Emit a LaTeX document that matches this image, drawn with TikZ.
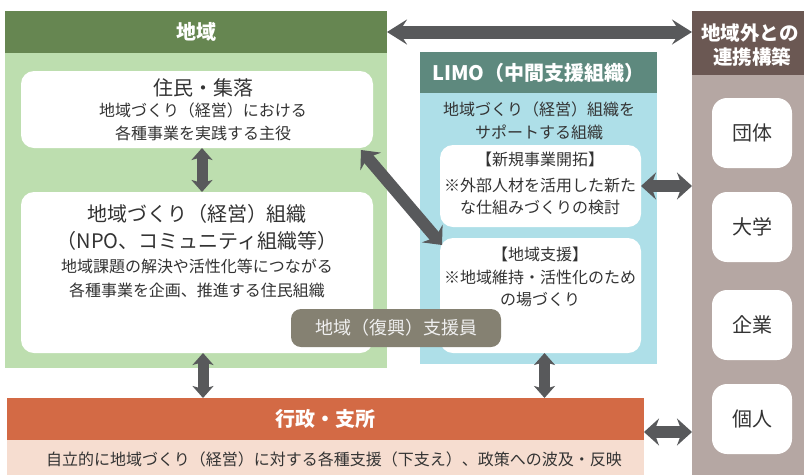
\documentclass[tikz,border=0pt]{standalone}
\usepackage{fontspec}
\setmainfont{Noto Sans CJK JP}
\usetikzlibrary{arrows.meta}
\definecolor{hdrgreen}{HTML}{668651}
\definecolor{ltgreen}{HTML}{BDDEAF}
\definecolor{hdrlimo}{HTML}{5E897E}
\definecolor{ltblue}{HTML}{AEDFE8}
\definecolor{hdrbrown}{HTML}{6B5853}
\definecolor{ltbrown}{HTML}{B5A7A3}
\definecolor{hdrorange}{HTML}{D36A45}
\definecolor{ltorange}{HTML}{F6DDD0}
\definecolor{pillgray}{HTML}{858172}
\definecolor{txtgray}{HTML}{333333}
\definecolor{arrgray}{HTML}{58595B}
\tikzset{
  box/.style={rectangle, inner sep=0pt, outer sep=0pt, anchor=north west},
  wbox/.style={box, fill=white, rounded corners=13pt},
  txt/.style={inner sep=0pt, text=txtgray, font=\fontsize{16}{18}\selectfont},
  bigtxt/.style={inner sep=0pt, text=txtgray, font=\fontsize{20}{22}\selectfont},
  hdrtxt/.style={inner sep=0pt, text=white, font=\bfseries\fontsize{20}{22}\selectfont},
  dbl/.style={draw=arrgray, line width=12pt,
    {Stealth[width=27pt,length=15pt,inset=5pt]}-{Stealth[width=27pt,length=15pt,inset=5pt]}},
  topdbl/.style={draw=arrgray, line width=13pt,
    {Stealth[width=25pt,length=20pt,inset=8pt]}-{Stealth[width=25pt,length=20pt,inset=8pt]}},
  vdbl/.style={draw=arrgray, line width=11pt,
    {Stealth[width=21pt,length=12pt,inset=3pt]}-{Stealth[width=21pt,length=12pt,inset=3pt]}},
}
\begin{document}
\begin{tikzpicture}[x=1pt,y=-1pt]
\useasboundingbox (0,0) rectangle (804,475);
% region 地域
\node[box, fill=hdrgreen, minimum width=382pt, minimum height=42pt] (hdrA) at (5,11) {};
\node[hdrtxt] (hdrAt) at (hdrA.center) {地域};
\node[box, fill=ltgreen, minimum width=382pt, minimum height=315pt] (bodyA) at (5,53) {};
\node[wbox, minimum width=352pt, minimum height=77pt] (jumin) at (21,71) {};
\node[bigtxt] (j1) at (203,88) {住民・集落};
\node[txt] (j2) at (203,110) {地域づくり（経営）における};
\node[txt] (j3) at (203,133) {各種事業を実践する主役};
\node[wbox, minimum width=352pt, minimum height=161pt] (sosiki) at (21,192) {};
\node[bigtxt] (s1) at (197,214) {地域づくり（経営）組織};
\node[bigtxt] (s2) at (197,241) {（NPO、コミュニティ組織等）};
\node[txt] (s3) at (197,266) {地域課題の解決や活性化等につながる};
\node[txt] (s4) at (197,290) {各種事業を企画、推進する住民組織};
% LIMO
\node[box, fill=hdrlimo, minimum width=237pt, minimum height=41pt] (hdrL) at (420,52) {};
\node[hdrtxt] (hdrLt) at (hdrL.center) {LIMO（中間支援組織）};
\node[box, fill=ltblue, minimum width=237pt, minimum height=271pt] (bodyL) at (420,93) {};
\node[txt] (l1) at (539,109) {地域づくり（経営）組織を};
\node[txt] (l2) at (539,132) {サポートする組織};
\node[wbox, minimum width=201pt, minimum height=82pt] (shinki) at (440,145) {};
\node[txt] (n1) at (540,159) {【新規事業開拓】};
\node[txt] (n2) at (540,185) {※外部人材を活用した新た};
\node[txt] (n3) at (540,207) {な仕組みづくりの検討};
\node[wbox, minimum width=201pt, minimum height=115pt] (shien) at (440,238) {};
\node[txt] (c1) at (540,254) {【地域支援】};
\node[txt] (c2) at (540,277) {※地域維持・活性化のため};
\node[txt] (c3) at (540,300) {の場づくり};
% pill
\node[box, fill=pillgray, rounded corners=10pt, minimum width=210pt, minimum height=38pt] (pill) at (291,309) {};
\node[inner sep=0pt, text=white!94!black, font=\fontsize{18}{20}\selectfont] (pillt) at (pill.center) {地域（復興）支援員};
% right column
\node[box, fill=hdrbrown, minimum width=112pt, minimum height=64pt] (hdrR) at (692,11) {};
\node[hdrtxt, font=\bfseries\fontsize{19.5}{21}\selectfont] (r1) at (750,33) {地域外との};
\node[hdrtxt, font=\bfseries\fontsize{19.5}{21}\selectfont] (r2) at (752,57) {連携構築};
\node[box, fill=ltbrown, minimum width=112pt, minimum height=400pt] (bodyR) at (692,75) {};
\node[wbox, rounded corners=15pt, minimum width=80pt, minimum height=70pt] (dantai) at (712,98) {};
\node[bigtxt] (dantait) at (dantai.center) {団体};
\node[wbox, rounded corners=15pt, minimum width=80pt, minimum height=70pt] (daigaku) at (712,192) {};
\node[bigtxt] (daigakut) at (daigaku.center) {大学};
\node[wbox, rounded corners=15pt, minimum width=80pt, minimum height=70pt] (kigyo) at (712,290) {};
\node[bigtxt] (kigyot) at (kigyo.center) {企業};
\node[wbox, rounded corners=15pt, minimum width=80pt, minimum height=70pt] (kojin) at (712,384) {};
\node[bigtxt] (kojint) at (kojin.center) {個人};
% 行政
\node[box, fill=hdrorange, minimum width=637pt, minimum height=42pt] (hdrG) at (7,398) {};
\node[hdrtxt] (hdrGt) at (hdrG.center) {行政・支所};
\node[box, fill=ltorange, minimum width=637pt, minimum height=35pt] (bodyG) at (7,440) {};
\node[txt] (g1) at (334,459) {自立的に地域づくり（経営）に対する各種支援（下支え）、政策への波及・反映};
% arrows
\draw[topdbl] (hdrA.east) -- (hdrA.east -| hdrR.west);
\draw[vdbl] ([xshift=5pt]jumin.south) -- ([xshift=5pt]sosiki.north);
\draw[vdbl] ([xshift=6pt]sosiki.south) -- ([xshift=6pt]sosiki.south |- hdrG.north);
\draw[vdbl] ([xshift=4pt]shien.south) -- ([xshift=4pt]shien.south |- hdrG.north);
\draw[dbl] (shinki.east) -- (shinki.east -| bodyR.west);
\draw[dbl] ([yshift=8pt]hdrG.south east) -- ([yshift=8pt]hdrG.south east -| bodyR.west);
\draw[dbl] ([xshift=-12pt,yshift=-2pt]jumin.south east) -- ([xshift=2pt,yshift=-7pt]shien.north west);
\end{tikzpicture}
\end{document}
